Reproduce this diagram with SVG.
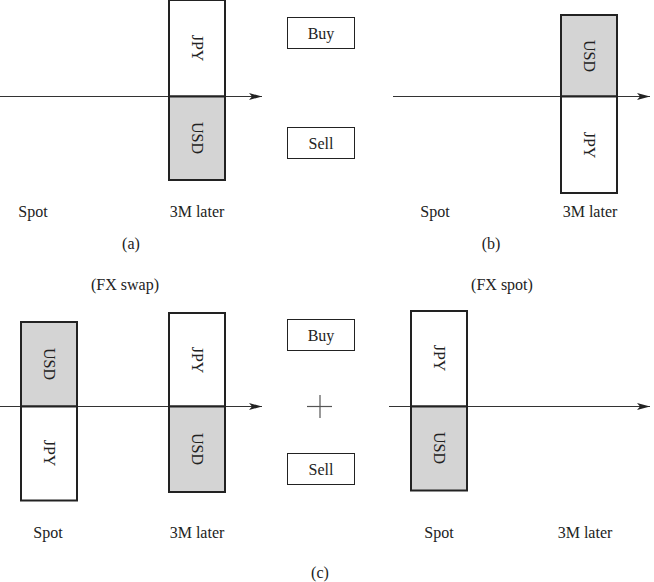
<svg xmlns="http://www.w3.org/2000/svg" width="654" height="582" viewBox="0 0 654 582" font-family="'Liberation Serif', 'DejaVu Serif', serif">
<defs>
<style>
text{font-family:'Liberation Serif','DejaVu Serif',serif}
.t{font-size:16px;fill:#222;text-anchor:middle}
.r{dominant-baseline:central}
.box{stroke:#222;stroke-width:2;fill:#fff}
.g{fill:#d4d4d4}
.lbl{stroke:#222;stroke-width:1;fill:#fff}
.ax{stroke:#333;stroke-width:1.2;fill:none}
</style>
<marker id="ah" markerWidth="14" markerHeight="10" refX="13" refY="5" orient="auto" markerUnits="userSpaceOnUse">
<path d="M0,1.5 L13,5 L0,8.5 L3,5 Z" fill="#222"/>
</marker>
</defs>
<rect width="654" height="582" fill="#fff"/>

<g id="connectors">
<line class="ax" x1="0" y1="96.5" x2="262" y2="96.5" marker-end="url(#ah)"/>
<line class="ax" x1="393" y1="96.5" x2="650" y2="96.5" marker-end="url(#ah)"/>
<line class="ax" x1="0" y1="406.5" x2="262" y2="406.5" marker-end="url(#ah)"/>
<line class="ax" x1="389" y1="406.5" x2="650" y2="406.5" marker-end="url(#ah)"/>
</g>

<g id="a-3m">
<rect class="box" x="169" y="0" width="56" height="96.5"/>
<rect class="box g" x="169" y="96.5" width="56" height="83.5"/>
<text class="t r" transform="translate(197,48) rotate(90)">JPY</text>
<text class="t r" transform="translate(197,138) rotate(90)">USD</text>
</g>
<g id="a-buy"><rect class="lbl" x="287.5" y="17.5" width="67" height="31"/><text class="t" x="321" y="39">Buy</text></g>
<g id="a-sell"><rect class="lbl" x="287.5" y="127.5" width="67" height="31"/><text class="t" x="321" y="149">Sell</text></g>
<text class="t" x="33" y="217">Spot</text>
<text class="t" x="197" y="217">3M later</text>
<text class="t" x="131" y="249">(a)</text>

<g id="b-3m">
<rect class="box g" x="561" y="15" width="56" height="81.5"/>
<rect class="box" x="561" y="96.5" width="56" height="96.5"/>
<text class="t r" transform="translate(589,56) rotate(90)">USD</text>
<text class="t r" transform="translate(589,145) rotate(90)">JPY</text>
</g>
<text class="t" x="435" y="217">Spot</text>
<text class="t" x="590" y="217">3M later</text>
<text class="t" x="491" y="249">(b)</text>

<text class="t" x="125" y="290">(FX swap)</text>
<text class="t" x="502" y="290">(FX spot)</text>

<g id="c-spot">
<rect class="box g" x="21" y="322" width="56" height="84.5"/>
<rect class="box" x="21" y="406.5" width="56" height="94"/>
<text class="t r" transform="translate(49,364) rotate(90)">USD</text>
<text class="t r" transform="translate(49,453) rotate(90)">JPY</text>
</g>
<g id="c-3m">
<rect class="box" x="169" y="313" width="56" height="93.5"/>
<rect class="box g" x="169" y="406.5" width="56" height="85.5"/>
<text class="t r" transform="translate(197,360) rotate(90)">JPY</text>
<text class="t r" transform="translate(197,449) rotate(90)">USD</text>
</g>
<g id="c-buy"><rect class="lbl" x="287.5" y="319.5" width="67" height="31"/><text class="t" x="321" y="341">Buy</text></g>
<g id="c-sell"><rect class="lbl" x="287.5" y="453.5" width="67" height="31"/><text class="t" x="321" y="475">Sell</text></g>
<g id="plus">
<line x1="307" y1="406.5" x2="332" y2="406.5" stroke="#555" stroke-width="1.2"/>
<line x1="320" y1="395" x2="320" y2="418" stroke="#555" stroke-width="1.2"/>
</g>
<text class="t" x="48" y="538">Spot</text>
<text class="t" x="197" y="538">3M later</text>

<g id="c-fxspot">
<rect class="box" x="411" y="311" width="56" height="95.5"/>
<rect class="box g" x="411" y="406.5" width="56" height="84"/>
<text class="t r" transform="translate(439,358) rotate(90)">JPY</text>
<text class="t r" transform="translate(439,448) rotate(90)">USD</text>
</g>
<text class="t" x="439" y="538">Spot</text>
<text class="t" x="585" y="538">3M later</text>
<text class="t" x="320" y="578">(c)</text>
</svg>
